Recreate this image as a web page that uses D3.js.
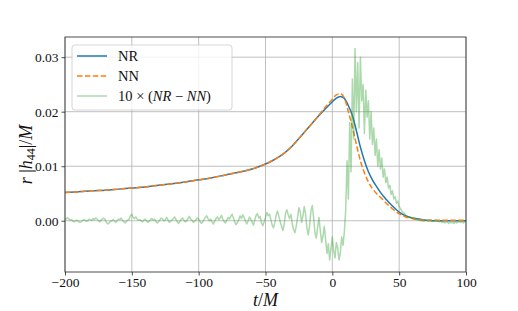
<!DOCTYPE html>
<html lang="en">
<head>
<meta charset="UTF-8">
<title>r|h44|/M</title>
<script src="https://cdnjs.cloudflare.com/ajax/libs/d3/7.8.5/d3.min.js"></script>
<style>
  body { margin: 0; background: #fff; }
  text { font-family: "Liberation Serif", "DejaVu Serif", serif; }
</style>
</head>
<body>
<div id="chart"></div>
<script>
// smooth curves, sampled times
const tSmooth = [-200,-190,-180,-170,-160,-150,-140,-130,-120,-110,-100,-90,-80,-70,-60,-50,-45,-40,-35,-30,-25,-20,-15,-10,-5,0,3,6,9,12,15,18,21,24,27,30,33,36,40,45,50,55,60,65,70,80,90,100];
const nr = [0.0052,0.0053,0.0055,0.0056,0.0058,0.0060,0.0062,0.0065,0.0068,0.0071,0.0075,0.0079,0.0084,0.0089,0.0095,0.0104,0.0110,0.0117,0.0126,0.0137,0.0151,0.0165,0.0179,0.0193,0.0206,0.0218,0.0225,0.0228,0.0224,0.0211,0.0193,0.0165,0.0135,0.0110,0.0090,0.0075,0.0063,0.0052,0.0040,0.0027,0.0016,0.0009,0.0005,0.0003,0.0001,0.0000,0.0000,0.0000];
const nn = [0.0052,0.0053,0.0055,0.0056,0.0058,0.0060,0.0062,0.0065,0.0068,0.0071,0.0075,0.0079,0.0084,0.0089,0.0095,0.0104,0.0110,0.0117,0.0126,0.0137,0.0151,0.0165,0.0179,0.0194,0.0209,0.0223,0.0231,0.0233,0.0225,0.0200,0.0172,0.0140,0.0110,0.0088,0.0071,0.0059,0.0050,0.0043,0.0033,0.0022,0.0013,0.0007,0.0004,0.0002,0.0001,0.0001,0.0001,0.0001];

// 10 x (NR - NN), one value per unit of t from -200 to 100, in units of 1e-4
const diffStart = -200;
const diff = [
  2,4,5,3,1,2,-1,-2,0,1,
  -1,-3,-2,0,2,1,-1,0,3,2,
  1,4,2,5,3,0,-2,1,3,5,
  2,-3,-6,-4,-1,0,2,-1,-3,0,
  3,2,5,1,-2,-4,-1,1,3,9,
  12,6,4,7,3,1,2,0,-2,1,
  3,0,-3,-1,2,4,1,3,-1,-4,
  -2,2,5,3,0,1,6,2,-3,-1,
  1,4,7,2,-2,-5,-1,3,5,1,
  -2,0,4,8,3,1,-3,-1,2,5,
  3,-1,-5,-2,2,6,9,4,0,3,
  -2,-6,-1,4,7,2,5,10,3,-1,
  -4,1,6,3,8,12,5,-2,-7,-3,
  2,9,4,11,6,-1,-6,0,7,3,
  -3,-8,2,10,13,5,8,-4,-9,-2,
  6,15,9,12,2,-8,-13,-3,10,18,
  8,-2,-10,-18,-6,14,20,11,4,12,
  -5,-16,-22,-10,6,24,16,-3,9,26,
  12,-14,-26,-8,18,28,6,-22,-32,-12,
  6,-18,-40,-28,-10,-35,-60,-42,-72,-50,
  -30,-55,-68,-40,-50,-72,-58,-30,-45,-20,
  20,110,40,180,90,260,150,316,200,290,
  170,300,220,250,160,240,190,220,150,200,
  140,170,120,150,100,130,95,115,80,95,
  70,80,60,65,48,55,40,44,32,36,
  26,22,18,15,13,10,8,7,6,5,
  4,3,4,2,1,2,0,1,-1,0,
  1,0,-1,1,0,-1,0,1,0,-1,
  -2,-1,-3,-2,-4,-3,-2,-5,-3,-4,
  -3,-5,-2,-4,-3,-1,-3,-2,-4,-2,
  -1
];

const xTicks = [-200, -150, -100, -50, 0, 50, 100];
const yTicks = [0.00, 0.01, 0.02, 0.03];
const legendLabels = ["NR", "NN", "diff"];

const W = 518, H = 311;
const m = {left: 65, right: 52, top: 37, bottom: 39};
const serif = "'Liberation Serif', 'DejaVu Serif', serif";

const svg = d3.select("#chart").append("svg")
  .attr("width", W).attr("height", H);

const x = d3.scaleLinear().domain([-200, 100]).range([m.left, W - m.right]);
const y = d3.scaleLinear().domain([-0.0094, 0.0337]).range([H - m.bottom, m.top]);

// grid
svg.append("g").selectAll("line").data(xTicks).join("line")
  .attr("x1", d => x(d)).attr("x2", d => x(d))
  .attr("y1", m.top).attr("y2", H - m.bottom)
  .attr("stroke", "#b0b0b0").attr("stroke-width", 0.8);
svg.append("g").selectAll("line").data(yTicks).join("line")
  .attr("y1", d => y(d)).attr("y2", d => y(d))
  .attr("x1", m.left).attr("x2", W - m.right)
  .attr("stroke", "#b0b0b0").attr("stroke-width", 0.8);

const plot = svg.append("g");
plot.append("clipPath").attr("id", "clip").append("rect")
  .attr("x", m.left).attr("y", m.top)
  .attr("width", W - m.left - m.right).attr("height", H - m.top - m.bottom);

const smoothLine = d3.line().x(d => x(d[0])).y(d => y(d[1])).curve(d3.curveMonotoneX);
const rawLine = d3.line().x(d => x(d[0])).y(d => y(d[1]));

const g = plot.append("g").attr("clip-path", "url(#clip)");
g.append("path").datum(tSmooth.map((t, i) => [t, nr[i]]))
  .attr("d", smoothLine).attr("fill", "none")
  .attr("stroke", "#1f77b4").attr("stroke-width", 1.5);
g.append("path").datum(tSmooth.map((t, i) => [t, nn[i]]))
  .attr("d", smoothLine).attr("fill", "none")
  .attr("stroke", "#ff7f0e").attr("stroke-width", 1.5)
  .attr("stroke-dasharray", "5.5,2.4");
g.append("path").datum(diff.map((v, i) => [diffStart + i, v * 1e-4]))
  .attr("d", rawLine).attr("fill", "none")
  .attr("stroke", "#2ca02c").attr("stroke-opacity", 0.4).attr("stroke-width", 1.5)
  .attr("stroke-linejoin", "round");

// axes
const xAxis = svg.append("g").attr("transform", `translate(0,${H - m.bottom})`)
  .call(d3.axisBottom(x).tickValues(xTicks).tickSize(3.5).tickPadding(2)
    .tickFormat(d => d < 0 ? "\u2212" + Math.abs(d) : d));
const yAxis = svg.append("g").attr("transform", `translate(${m.left},0)`)
  .call(d3.axisLeft(y).tickValues(yTicks).tickSize(3.5).tickPadding(3)
    .tickFormat(d3.format(".2f")));
[xAxis, yAxis].forEach(a => {
  a.select(".domain").remove();
  a.selectAll("line").attr("stroke", "#222").attr("stroke-width", 0.8);
  a.selectAll("text").attr("font-size", 13.5).attr("fill", "#111")
    .style("font-family", serif);
});

// frame
svg.append("rect")
  .attr("x", m.left).attr("y", m.top)
  .attr("width", W - m.left - m.right).attr("height", H - m.top - m.bottom)
  .attr("fill", "none").attr("stroke", "#222").attr("stroke-width", 0.8);

// axis labels
const xl = svg.append("text").attr("x", (m.left + W - m.right) / 2).attr("y", 306)
  .attr("text-anchor", "middle").attr("font-size", 18).attr("fill", "#111");
xl.append("tspan").attr("font-style", "italic").text("t");
xl.append("tspan").text("/");
xl.append("tspan").attr("font-style", "italic").text("M");

const yl = svg.append("text")
  .attr("transform", `translate(32,${(m.top + H - m.bottom) / 2}) rotate(-90)`)
  .attr("text-anchor", "middle").attr("font-size", 18).attr("fill", "#111");
yl.append("tspan").attr("font-style", "italic").text("r ");
yl.append("tspan").text("|");
yl.append("tspan").attr("font-style", "italic").text("h");
yl.append("tspan").attr("font-size", 12).attr("dy", 3).text("44");
yl.append("tspan").attr("dy", -3).text("|/");
yl.append("tspan").attr("font-style", "italic").text("M");

// legend
const lg = svg.append("g");
lg.append("rect").attr("x", 72).attr("y", 45).attr("width", 160).attr("height", 65)
  .attr("rx", 3).attr("fill", "#fff").attr("fill-opacity", 0.8)
  .attr("stroke", "#cccccc").attr("stroke-width", 0.8);
const styles = [
  {c: "#1f77b4", dash: null, op: 1},
  {c: "#ff7f0e", dash: "5.5,2.4", op: 1},
  {c: "#2ca02c", dash: null, op: 0.4}
];
legendLabels.forEach((lab, i) => {
  const yy = 56 + i * 20;
  lg.append("line").attr("x1", 77).attr("x2", 107).attr("y1", yy).attr("y2", yy)
    .attr("stroke", styles[i].c).attr("stroke-width", 1.5)
    .attr("stroke-opacity", styles[i].op)
    .attr("stroke-dasharray", styles[i].dash);
  const t = lg.append("text").attr("x", 118).attr("y", yy + 5)
    .attr("font-size", 14.5).attr("fill", "#111");
  if (lab === "diff") {
    t.append("tspan").text("10 \u00d7 (");
    t.append("tspan").attr("font-style", "italic").text("NR");
    t.append("tspan").text(" \u2212 ");
    t.append("tspan").attr("font-style", "italic").text("NN");
    t.append("tspan").text(")");
  } else {
    t.text(lab);
  }
});
</script>
</body>
</html>
